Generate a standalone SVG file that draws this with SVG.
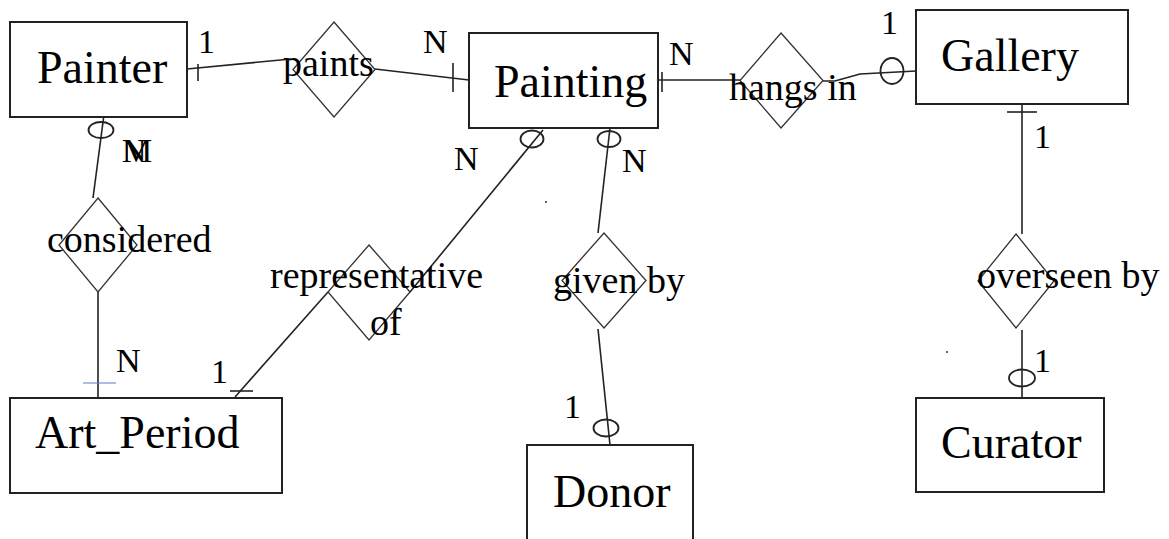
<svg xmlns="http://www.w3.org/2000/svg" width="1169" height="539" viewBox="0 0 1169 539">
<style>
.ent{fill:#fff;stroke:#222;stroke-width:2}
.rel{fill:none;stroke:#333;stroke-width:1.3}
.et{font-family:"Liberation Serif","Times New Roman",serif;font-size:46px;fill:#000}
.rt{font-family:"Liberation Serif","Times New Roman",serif;font-size:38px;fill:#000}
.lb{font-family:"Liberation Serif","Times New Roman",serif;font-size:34px;fill:#000}
.ln{fill:none;stroke:#222;stroke-width:1.6}
.ov{fill:none;stroke:#222;stroke-width:1.8}
</style>
<rect width="1169" height="539" fill="#fff"/>
<g id="connectors">
<line class="ln" x1="187" y1="69" x2="291" y2="59"/>
<line class="ln" x1="198" y1="64" x2="198" y2="81"/>
<line class="ln" x1="375" y1="69" x2="469" y2="80"/>
<line class="ln" x1="453" y1="63" x2="453" y2="92"/>
<line class="ln" x1="658" y1="80" x2="740" y2="80"/>
<line class="ln" x1="662" y1="72" x2="662" y2="92"/>
<polyline class="ln" points="823,81 835,81 860,74 916,71"/>
<ellipse class="ov" cx="892" cy="71" rx="11.5" ry="13"/>
<line class="ln" x1="1022" y1="104" x2="1022" y2="234"/>
<line class="ln" x1="1007" y1="112" x2="1037" y2="112"/>
<line class="ln" x1="1022" y1="330" x2="1022" y2="398"/>
<ellipse class="ov" cx="1022" cy="378" rx="13" ry="8.5"/>
<line class="ln" x1="105" y1="107" x2="93" y2="198"/>
<ellipse class="ov" cx="101" cy="130" rx="12.5" ry="8"/>
<line class="ln" x1="98" y1="292" x2="98" y2="398"/>
<line x1="83" y1="383" x2="116" y2="383" stroke="#5b7fc7" stroke-width="1.2"/>
<line class="ln" x1="543" y1="130" x2="410" y2="292"/>
<ellipse class="ov" cx="532" cy="139" rx="11.5" ry="8.5"/>
<line class="ln" x1="328" y1="292" x2="235" y2="397"/>
<line class="ln" x1="230" y1="391" x2="253" y2="391"/>
<line class="ln" x1="610" y1="128" x2="598" y2="233"/>
<ellipse class="ov" cx="609" cy="139" rx="11.5" ry="8"/>
<line class="ln" x1="598" y1="329" x2="610" y2="445"/>
<ellipse class="ov" cx="606" cy="428" rx="12.5" ry="8.5"/>
</g>
<g id="Painter"><rect class="ent" x="10" y="22" width="177" height="95"/><text class="et" x="37" y="83">Painter</text></g>
<g id="Painting"><rect class="ent" x="469" y="33" width="189" height="95"/><text class="et" x="494" y="97">Painting</text></g>
<g id="Gallery"><rect class="ent" x="916" y="10" width="212" height="94"/><text class="et" x="941" y="71">Gallery</text></g>
<g id="Art_Period"><rect class="ent" x="10" y="398" width="272" height="95"/><text class="et" x="35" y="448">Art_Period</text></g>
<g id="Donor"><rect class="ent" x="527" y="445" width="166" height="110"/><text class="et" x="553" y="507">Donor</text></g>
<g id="Curator"><rect class="ent" x="916" y="398" width="188" height="94"/><text class="et" x="941" y="458">Curator</text></g>
<g id="paints"><polygon class="rel" points="334,22 375,69.5 334,117 293,69.5"/><text class="rt" x="283" y="76">paints</text></g>
<g id="hangs_in"><polygon class="rel" points="781,33 823,80.5 781,128 740,80.5"/><text class="rt" x="729" y="100">hangs in</text></g>
<g id="considered"><polygon class="rel" points="98,198 137,245 98,292 59,245"/><text class="rt" x="47" y="252">considered</text></g>
<g id="representative_of"><polygon class="rel" points="369,245 410,292 369,340 328,292"/><text class="rt" x="270" y="288">representative</text><text class="rt" x="370" y="335">of</text></g>
<g id="given_by"><polygon class="rel" points="604,233 646,280.5 604,328 562,280.5"/><text class="rt" x="553" y="293">given by</text></g>
<g id="overseen_by"><polygon class="rel" points="1016,234 1054,281 1016,328 978,281"/><text class="rt" x="977" y="288">overseen by</text></g>
<g id="labels">
<text class="lb" x="198" y="53">1</text>
<text class="lb" x="423" y="53">N</text>
<text class="lb" x="669" y="65">N</text>
<text class="lb" x="881" y="34">1</text>
<text class="lb" x="1034" y="148">1</text>
<text class="lb" x="1034" y="372">1</text>
<text class="lb" x="454" y="170">N</text>
<text class="lb" x="622" y="172">N</text>
<text class="lb" x="564" y="418">1</text>
<text class="lb" x="211" y="383">1</text>
<text class="lb" x="116" y="372">N</text>
<text class="lb" x="122" y="162">N</text>
<text class="lb" x="122" y="162">M</text>
</g>
<circle cx="546" cy="202" r="1" fill="#333"/>
<circle cx="947" cy="352" r="1" fill="#333"/>
</svg>
